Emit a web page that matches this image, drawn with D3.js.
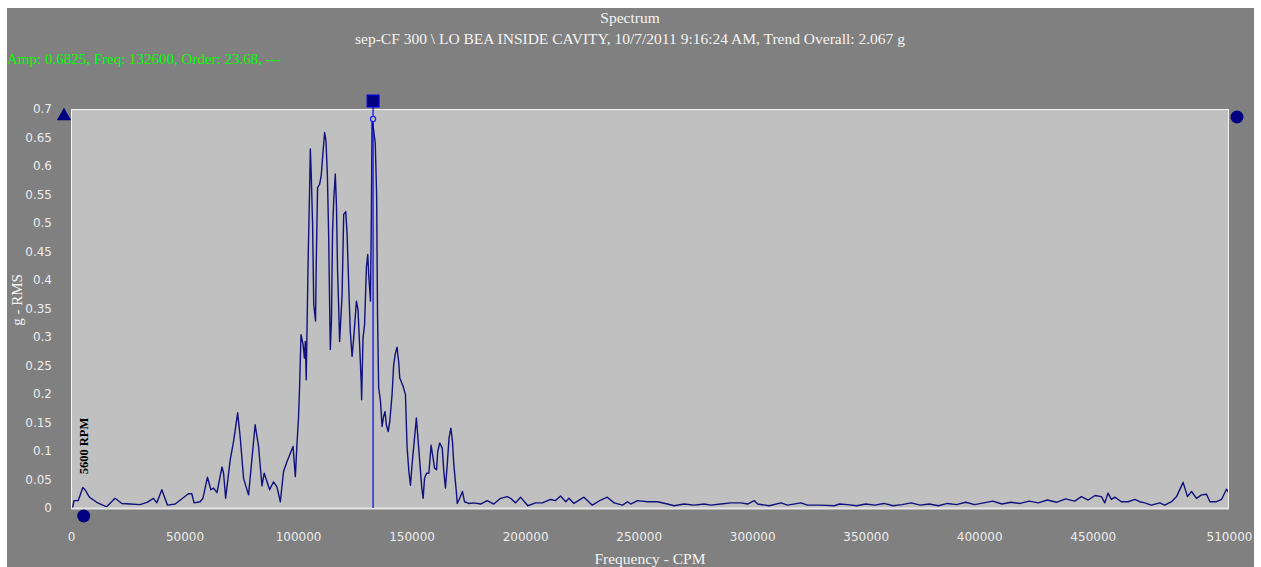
<!DOCTYPE html>
<html><head><meta charset="utf-8">
<script src="https://cdn.jsdelivr.net/npm/d3@7/dist/d3.min.js"></script>
<style>body{margin:0;background:#fff;overflow:hidden}</style>
</head><body><svg id="c" width="1261" height="567"></svg>
<script>
const freqCPM=[700,1300,3200,5200,6200,8100,11300,15700,19400,22400,26000,30400,33500,36300,37800,40000,42500,45900,51700,53200,54200,56900,58100,60100,61600,62800,64300,66500,67200,68100,70100,71600,73400,74500,76000,78200,81100,82600,84100,85100,87500,89200,90700,92200,93600,95100,97800,98800,99500,100200,100700,101300,102200,102800,103200,103600,104400,105100,105400,105800,106400,106900,107700,108000,108600,109500,110200,110800,111700,112300,112900,113500,113900,114200,114700,115200,115700,116400,116900,117400,117900,118300,119400,120100,121000,121600,122300,123000,123800,124500,125700,126400,127100,127800,128000,128600,129300,130100,130700,131100,131900,132300,132600,133200,134000,134600,135000,135500,136300,137000,137700,138300,138900,139700,140400,141400,142100,142900,143600,144300,144800,146300,147300,148000,148800,149500,150200,151300,152100,152700,153600,154500,155100,155700,156600,157600,158600,159500,160100,161000,161500,162400,163500,164200,164900,165700,166500,167300,168000,168600,169700,170100,171200,172400,173300,175200,177400,180400,183300,186200,189200,192100,193600,195800,198000,201200,204600,207600,211200,213400,215600,217900,219300,221500,225900,229600,233300,236200,239200,242900,245100,246500,249500,253900,258300,262700,265600,270000,274400,278800,281800,286200,290600,295000,298000,300900,302400,307500,312700,315600,321500,324400,330300,336200,338400,342000,346000,350000,354000,358000,362000,366000,370000,374000,378000,382000,386000,390000,394000,398000,402000,406000,410000,414000,418000,422000,426000,430000,434000,438000,442000,445000,448000,451000,453800,455300,456700,458200,459700,462600,465600,468500,470700,472900,475800,479500,481700,484700,486900,489800,491700,493500,495700,497900,500100,501600,504500,506700,508900,510000];
const ampRMS=[0,0.013,0.013,0.036,0.032,0.019,0.010,0.002,0.017,0.008,0.007,0.006,0.010,0.017,0.009,0.032,0.005,0.007,0.025,0.025,0.009,0.011,0.017,0.054,0.032,0.035,0.027,0.072,0.061,0.017,0.084,0.117,0.167,0.125,0.052,0.023,0.146,0.108,0.039,0.061,0.032,0.046,0.037,0.011,0.064,0.081,0.108,0.055,0.111,0.158,0.216,0.304,0.287,0.263,0.292,0.225,0.427,0.562,0.630,0.586,0.498,0.357,0.328,0.427,0.562,0.568,0.583,0.615,0.659,0.644,0.586,0.474,0.357,0.278,0.328,0.486,0.539,0.586,0.533,0.416,0.351,0.292,0.375,0.515,0.520,0.480,0.392,0.310,0.266,0.298,0.363,0.348,0.287,0.222,0.190,0.298,0.322,0.422,0.445,0.410,0.363,0.521,0.6825,0.665,0.640,0.550,0.339,0.211,0.187,0.143,0.161,0.169,0.146,0.134,0.152,0.199,0.251,0.272,0.282,0.257,0.228,0.213,0.199,0.108,0.064,0.040,0.076,0.123,0.158,0.128,0.081,0.035,0.017,0.052,0.061,0.061,0.110,0.087,0.070,0.067,0.099,0.114,0.105,0.064,0.035,0.076,0.123,0.140,0.117,0.076,0.029,0.008,0.017,0.029,0.011,0.008,0.009,0.007,0.013,0.007,0.017,0.020,0.017,0.009,0.019,0.004,0.009,0.009,0.015,0.013,0.021,0.011,0.017,0.008,0.019,0.005,0.014,0.019,0.009,0.005,0.011,0.007,0.013,0.011,0.011,0.007,0.004,0.007,0.005,0.007,0.005,0.007,0.009,0.009,0.007,0.013,0.007,0.004,0.009,0.005,0.009,0.005,0.005,0.004,0.007,0.006,0.004,0.007,0.005,0.008,0.004,0.006,0.009,0.005,0.007,0.004,0.008,0.006,0.010,0.006,0.009,0.012,0.007,0.010,0.008,0.012,0.009,0.014,0.010,0.016,0.012,0.020,0.014,0.022,0.020,0.009,0.026,0.015,0.019,0.011,0.011,0.015,0.011,0.009,0.005,0.009,0.005,0.011,0.020,0.045,0.020,0.029,0.017,0.023,0.024,0.011,0.011,0.015,0.033,0.026];
const xTickValues=[0,50000,100000,150000,200000,250000,300000,350000,400000,450000,510000];
const yTickValues=[0,0.05,0.1,0.15,0.2,0.25,0.3,0.35,0.4,0.45,0.5,0.55,0.6,0.65,0.7];
const titleText="Spectrum";
const subtitleText="sep-CF 300 \\ LO BEA INSIDE CAVITY, 10/7/2011 9:16:24 AM, Trend Overall: 2.067 g";
const cursorText="Amp: 0.6825, Freq: 132600, Order: 23.68, ---";
const xAxisTitle="Frequency - CPM";
const yAxisTitle="g - RMS";
const cursorFreq=132600, cursorAmp=0.6825;
const rpmFreq=5600, rpmLabel="5600 RPM";

const svg=d3.select("#c");
const L=71,R=1229,T=109,B=508;
const x=d3.scaleLinear().domain([0,510000]).range([L,R]);
const y=d3.scaleLinear().domain([0,0.7]).range([B,T]);

svg.append("rect").attr("x",7).attr("y",8).attr("width",1247).attr("height",559).attr("fill","#808080");
svg.append("rect").attr("x",L).attr("y",T).attr("width",R-L).attr("height",B-T).attr("fill","#c0c0c0");
svg.append("clipPath").attr("id","clip").append("rect").attr("x",L).attr("y",T).attr("width",R-L).attr("height",B-T);

// titles
svg.append("text").attr("x",630).attr("y",23).attr("text-anchor","middle").attr("fill","#f4f4f4")
  .style("font","15.5px 'Liberation Serif'").text(titleText);
svg.append("text").attr("x",630).attr("y",44).attr("text-anchor","middle").attr("fill","#f4f4f4")
  .style("font","15.5px 'Liberation Serif'").text(subtitleText);
svg.append("text").attr("x",7).attr("y",64).attr("fill","#00ff00")
  .style("font","15px 'Liberation Serif'").text(cursorText);

// axes
const xa=svg.append("g").attr("transform",`translate(0,${B})`)
  .call(d3.axisBottom(x).tickValues(xTickValues).tickSize(0).tickPadding(24).tickFormat(d3.format("d")));
const ya=svg.append("g").attr("transform",`translate(${L},0)`)
  .call(d3.axisLeft(y).tickValues(yTickValues).tickSize(0).tickPadding(19).tickFormat(d=>d3.format("~g")(+d.toFixed(2))));
[xa,ya].forEach(a=>{a.select(".domain").remove();a.selectAll("text").attr("fill","#ececec").style("font","12px 'DejaVu Sans'");});

svg.append("text").attr("x",(L+R)/2).attr("y",564).attr("text-anchor","middle").attr("fill","#f4f4f4")
  .style("font","15.5px 'Liberation Serif'").text(xAxisTitle);
svg.append("text").attr("transform","translate(22,300) rotate(-90)").attr("text-anchor","middle").attr("fill","#f4f4f4")
  .style("font","15px 'Liberation Serif'").text(yAxisTitle);

// spectrum line
const line=d3.line().x((d,i)=>x(freqCPM[i])).y(d=>y(d));
svg.append("path").datum(ampRMS).attr("clip-path","url(#clip)").attr("d",line)
  .attr("fill","none").attr("stroke","#10107e").attr("stroke-width",1.4).attr("stroke-linejoin","round");

// plot border
svg.append("rect").attr("x",L+0.5).attr("y",T+0.5).attr("width",R-L-1).attr("height",B-T).attr("fill","none").attr("stroke","#f4f4f4").attr("stroke-width",1);
svg.append("line").attr("x1",L).attr("x2",R).attr("y1",B+0.5).attr("y2",B+0.5).attr("stroke","#e6e6e6").attr("stroke-width",2);

// cursor
svg.append("line").attr("x1",x(cursorFreq)+1).attr("x2",x(cursorFreq)+1).attr("y1",T-4).attr("y2",B)
  .attr("stroke","#0000ff").attr("stroke-width",1.2);
svg.append("rect").attr("x",x(cursorFreq)-5).attr("y",T-14).attr("width",12).attr("height",12)
  .attr("fill","#000080").attr("stroke","#0000ff").attr("stroke-width",1);
svg.append("circle").attr("cx",x(cursorFreq)+1).attr("cy",y(cursorAmp)).attr("r",2.6)
  .attr("fill","#c0c0c0").attr("stroke","#2020ff").attr("stroke-width",1.2);

// markers
svg.append("path").attr("d",d3.symbol(d3.symbolTriangle,90)()).attr("transform",`translate(${x(0)-7},${y(0.7)+7})`).attr("fill","#000080");
svg.append("circle").attr("cx",x(510000)+8).attr("cy",y(0.7)+8).attr("r",6.5).attr("fill","#000080");
svg.append("circle").attr("cx",x(rpmFreq)).attr("cy",y(0)+8).attr("r",6.5).attr("fill","#000080");
svg.append("text").attr("transform",`translate(${x(rpmFreq)+4},446) rotate(-90)`).attr("text-anchor","middle")
  .attr("fill","#000").style("font","bold 12.5px 'Liberation Serif'").text(rpmLabel);
</script></body></html>
